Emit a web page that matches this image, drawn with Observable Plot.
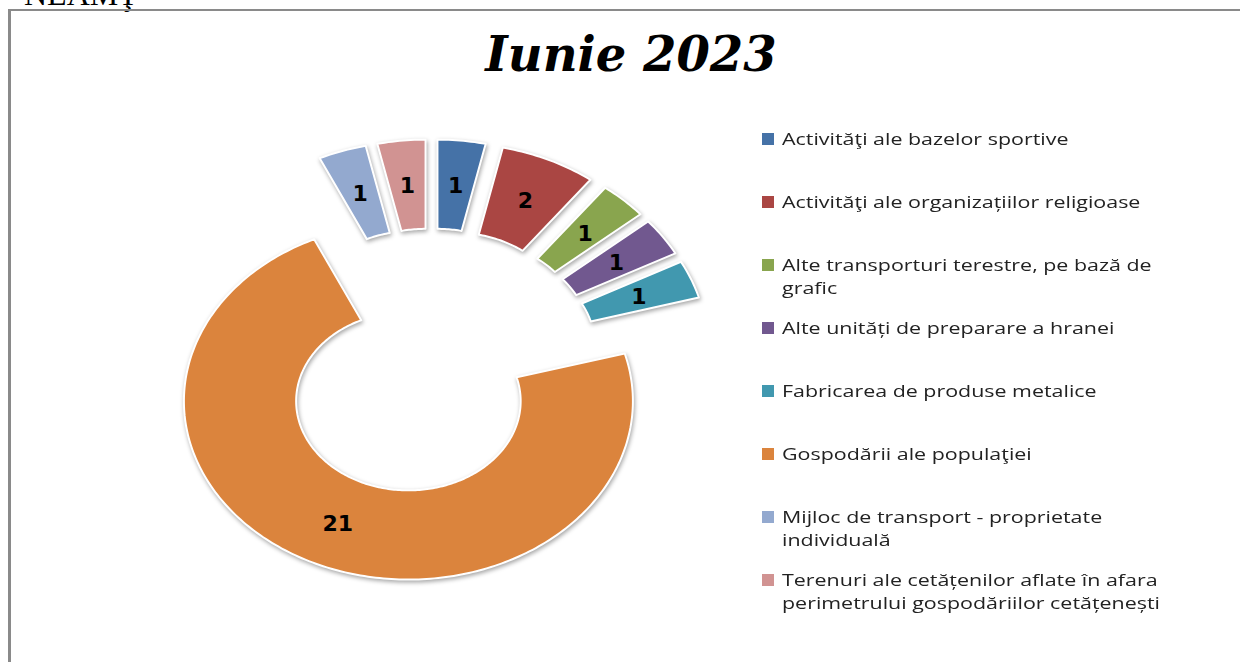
<!DOCTYPE html>
<html>
<head>
<meta charset="utf-8">
<script src="https://cdn.jsdelivr.net/npm/d3@7"></script>
<script src="https://cdn.jsdelivr.net/npm/@observablehq/plot@0.6"></script>
<style>
  html, body { margin: 0; padding: 0; background: #fff; overflow: hidden; }
  #page { position: relative; width: 1240px; height: 662px; overflow: hidden; background: #fff; }
  #neamt { position: absolute; left: 24px; top: -21px; font: 32px "Liberation Serif", serif; line-height: 30px; color: #000; }
  #frame { position: absolute; left: 8px; top: 9px; width: 1400px; height: 900px; border-top: 2px solid #8a8a8a; border-left: 3px solid #8a8a8a; }
  #title { position: absolute; left: 0; top: 24px; width: 1262px; text-align: center; font: italic bold 48px "DejaVu Serif", serif; line-height: 60px; color: #000; }
  #chart { position: absolute; left: 0; top: 100px; }
  #chart svg g[aria-label="line"] { filter: drop-shadow(1px 2px 2px rgba(0,0,0,0.35)); }
  #legend { position: absolute; left: 762px; top: 127px; }
  .item { display: flex; height: 63px; align-items: flex-start; }
  .sw { width: 12px; height: 12px; margin-top: 6px; margin-right: 8px; flex: none; }
  .lab { width: 312px; font: 17px "Open Sans", sans-serif; line-height: 23px; color: #222; transform: scaleX(1.26); transform-origin: 0 0; }
</style>
</head>
<body>
<div id="page">
  <div id="neamt">NEAMŢ</div>
  <div id="frame"></div>
  <div id="title">Iunie 2023</div>
  <div id="chart"></div>
  <div id="legend"></div>
</div>
<script>
const categories = [
  "Activităţi ale bazelor sportive",
  "Activităţi  ale organizațiilor religioase",
  "Alte transporturi terestre, pe bază de grafic",
  "Alte unități de preparare a hranei",
  "Fabricarea de produse metalice",
  "Gospodării ale populaţiei",
  "Mijloc de transport - proprietate individuală",
  "Terenuri ale cetățenilor aflate în afara perimetrului gospodăriilor cetățenești"
];
const values = [1, 2, 1, 1, 1, 21, 1, 1];
const colors = ["#4572A7", "#AA4643", "#89A54E", "#71588F", "#4198AF", "#DB843D", "#93A9CF", "#D19392"];

// donut geometry (data units): outer radius 1, inner 0.5, explosion 0.245
const R = 1, r = 0.5, explode = 0.245;
const pie = d3.pie().sort(null).value(d => d)(values);

const poly = [];
const labels = [];
pie.forEach((p, i) => {
  const a0 = p.startAngle, a1 = p.endAngle, m = (a0 + a1) / 2;
  const ox = explode * Math.sin(m), oy = explode * Math.cos(m);
  const n = Math.max(4, Math.ceil((a1 - a0) / (Math.PI / 180)));
  const pts = [];
  for (let k = 0; k <= n; k++) { const a = a0 + (a1 - a0) * k / n; pts.push([ox + R * Math.sin(a), oy + R * Math.cos(a)]); }
  for (let k = n; k >= 0; k--) { const a = a0 + (a1 - a0) * k / n; pts.push([ox + r * Math.sin(a), oy + r * Math.cos(a)]); }
  pts.push(pts[0]);
  pts.forEach(([x, y]) => poly.push({name: categories[i], x, y}));
  const rm = (R + r) / 2;
  labels.push({x: ox + rm * Math.sin(m), y: oy + rm * Math.cos(m), text: String(values[i])});
});

const W = 740, H = 562;
const cx = 431, cy = 261, sx = 224.5, sy = 178.4;
const chart = Plot.plot({
  width: W, height: H, margin: 0,
  x: {domain: [-cx / sx, (W - cx) / sx], axis: null},
  y: {domain: [-(H - cy) / sy, cy / sy], axis: null},
  color: {domain: categories, range: colors},
  marks: [
    Plot.line(poly, {x: "x", y: "y", z: "name", fill: "name", stroke: "white", strokeWidth: 2, curve: "linear", strokeLinejoin: "round"}),
    Plot.text(labels, {x: "x", y: "y", text: "text", fill: "black", fontSize: 22, fontWeight: "bold", fontFamily: "DejaVu Sans", dy: 1})
  ]
});
chart.style.background = "transparent";
document.getElementById("chart").appendChild(chart);

const legend = document.getElementById("legend");
categories.forEach((c, i) => {
  const it = document.createElement("div");
  it.className = "item";
  const sw = document.createElement("div");
  sw.className = "sw"; sw.style.background = colors[i];
  const lab = document.createElement("div");
  lab.className = "lab"; lab.textContent = c;
  it.appendChild(sw); it.appendChild(lab);
  legend.appendChild(it);
});
</script>
</body>
</html>
